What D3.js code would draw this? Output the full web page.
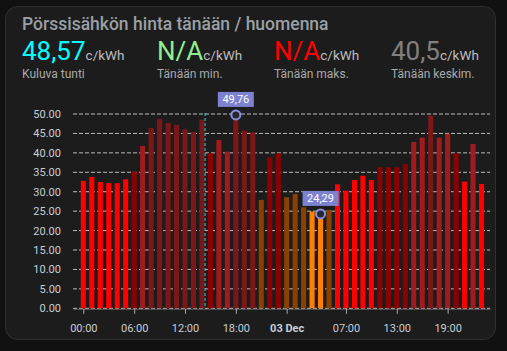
<!DOCTYPE html>
<html>
  <head>
    <title>Pörssisähkö</title>
    <script src="https://cdn.jsdelivr.net/npm/d3@7"></script>
    <style>
      body { margin: 0; background: #111111; }
      svg { display: block; font-family: Roboto, "Noto Sans", sans-serif; }
    </style>
  </head>
  <body>
    <svg width="507" height="351" id="mainsvg"></svg>
    <script>
    // tuntihinnat c/kWh, 2.12. klo 00 -> 3.12. klo 23
    const prices = [32.8, 33.8, 32.5, 32.2, 32.2, 33.2, 35.2, 41.8, 46.4, 48.7, 47.7, 47.2,
                    46.1, 45.4, 48.57, 39.9, 43.3, 40.3, 49.76, 45.7, 45.3, 27.9, 38.9, 39.9,
                    28.6, 29.4, 26.0, 24.9, 24.29, 25.3, 31.9, 30.3, 33.0, 34.1, 33.0, 36.3,
                    36.3, 36.3, 37.1, 42.8, 43.9, 49.6, 43.9, 44.9, 39.9, 32.6, 42.3, 32.0];
    const hours = prices.map((d, i) => i);
    const tickHours = [0, 6, 12, 18, 24, 31, 37, 43];
    const tickLabels = ['00:00', '06:00', '12:00', '18:00', '03 Dec', '07:00', '13:00', '19:00'];
    const yTicks = [0, 5, 10, 15, 20, 25, 30, 35, 40, 45, 50];
    const nowHour = 14 + 22 / 60;
    const annotations = [{h: 18, v: 49.76, text: '49,76'}, {h: 28, v: 24.29, text: '24,29'}];

    const stats = [
      {value: '48,57', label: 'Kuluva tunti', color: '#00ffff'},
      {value: 'N/A', label: 'Tänään min.', color: '#90ee90'},
      {value: 'N/A', label: 'Tänään maks.', color: '#ff0000'},
      {value: '40,5', label: 'Tänään keskim.', color: '#808080'}
    ];

    // värit hintatason mukaan
    const thresholds = [25, 30, 35, 40, 45];
    const colors = ['#ff8000', '#8b4000', '#ff0000', '#8b0000', '#a11b1e', '#7b1717'];
    const color = d3.scaleThreshold().domain(thresholds).range(colors);

    let svg = d3.select('#mainsvg');

    // kortti
    svg.append('rect')
      .attr('x', 5.5).attr('y', 6.5).attr('width', 490).attr('height', 333).attr('rx', 12)
      .attr('fill', '#1c1c1c').attr('stroke', '#2f2f2f');

    svg.append('text')
      .attr('x', 22).attr('y', 30)
      .attr('fill', '#9aa0a6').attr('font-size', 17.5).attr('font-weight', 500)
      .text('Pörssisähkön hinta tänään / huomenna');

    const statX = [22, 157, 274, 391];
    stats.forEach((s, i) => {
      let t = svg.append('text').attr('x', statX[i]).attr('y', 59.5);
      t.append('tspan').attr('font-size', 26).attr('fill', s.color).text(s.value);
      t.append('tspan').attr('font-size', 13.5).attr('fill', '#bdbdbd').text('c/kWh');
      svg.append('text').attr('x', statX[i]).attr('y', 78)
        .attr('font-size', 12).attr('fill', '#a9a9a9').text(s.label);
    });

    // kaavio
    const x = d3.scaleLinear().domain([-1.22, 48]).range([73, 490]);
    const y = d3.scaleLinear().domain([0, 50]).range([308.3, 114]);
    const barW = (x(1) - x(0)) * 0.6;

    svg.append('g').selectAll('line').data(yTicks).join('line')
      .attr('x1', x.range()[0]).attr('x2', x.range()[1])
      .attr('y1', d => y(d)).attr('y2', d => y(d))
      .attr('stroke', '#bdbdbd').attr('stroke-width', 1).attr('stroke-dasharray', '4,2');

    svg.append('g').selectAll('rect').data(hours).join('rect')
      .attr('x', d => x(d) - barW / 2)
      .attr('y', d => y(prices[d]))
      .attr('width', barW)
      .attr('height', d => y(0) - y(prices[d]))
      .attr('fill', d => color(prices[d]));

    // x-akseli
    let xAxis = svg.append('g')
      .attr('transform', `translate(0,${y(0) + 0.5})`)
      .call(d3.axisBottom(x).tickValues(tickHours).tickFormat((d, i) => tickLabels[i])
        .tickSize(5).tickSizeOuter(0));
    xAxis.select('.domain').attr('stroke', '#888').attr('stroke-opacity', 0.6);
    xAxis.selectAll('.tick line').attr('stroke', '#aaa');
    xAxis.selectAll('.tick text')
      .attr('y', 15).attr('font-size', 11).attr('font-family', 'Roboto')
      .attr('fill', '#c6ced6')
      .attr('font-weight', (d, i) => tickLabels[i] === '03 Dec' ? 'bold' : null);

    // y-akseli
    let yAxis = svg.append('g')
      .attr('transform', 'translate(61,0)')
      .call(d3.axisLeft(y).tickValues(yTicks).tickFormat(d3.format('.2f')).tickSize(0));
    yAxis.select('.domain').remove();
    yAxis.selectAll('.tick text')
      .attr('x', 0).attr('font-size', 11).attr('font-family', 'Roboto')
      .attr('fill', '#c6ced6');

    // nykyhetki
    svg.append('line')
      .attr('x1', x(nowHour)).attr('x2', x(nowHour))
      .attr('y1', y(50) - 1).attr('y2', y(0))
      .attr('stroke', '#00e5ff').attr('stroke-width', 1).attr('stroke-dasharray', '3,2');

    // min / max merkinnät
    let ann = svg.append('g').selectAll('g').data(annotations).join('g');
    ann.append('circle')
      .attr('cx', d => x(d.h)).attr('cy', d => y(d.v)).attr('r', 4.5)
      .attr('fill', '#26262e').attr('stroke', '#8b90dc').attr('stroke-width', 2);
    ann.append('rect')
      .attr('x', d => x(d.h) - 18).attr('y', d => y(d.v) - 23)
      .attr('width', 36).attr('height', 15)
      .attr('fill', '#7d82d0');
    ann.append('text')
      .attr('x', d => x(d.h)).attr('y', d => y(d.v) - 11.5)
      .attr('text-anchor', 'middle').attr('font-size', 11).attr('fill', '#ffffff')
      .text(d => d.text);
    </script>
  </body>
</html>
